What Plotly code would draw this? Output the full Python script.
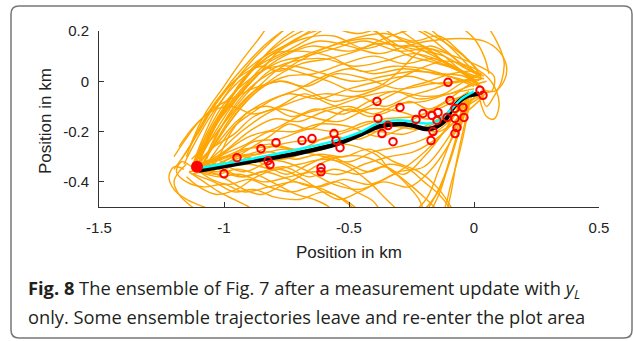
import plotly.graph_objects as go

# ---------------- data ----------------
x_ticks = [-1.5, -1, -0.5, 0, 0.5]
x_tick_labels = ["-1.5", "-1", "-0.5", "0", "0.5"]
y_ticks = [-0.4, -0.2, 0, 0.2]
y_tick_labels = ["-0.4", "-0.2", "0", "0.2"]

# ensemble trajectories (x list, y list), km
ens_x = [
    [-1.15, -1.12, -1.07, -1.0, -0.93, -0.86, -0.78, -0.6, -0.4, -0.22, -0.1, -0.02, 0.02],
    [-1.12, -1.09, -1.04, -0.97, -0.89, -0.82, -0.74, -0.6, -0.45, -0.32, -0.22, -0.12, -0.04, 0.02],
    [-1.10, -1.06, -1.00, -0.93, -0.85, -0.76, -0.66, -0.52, -0.40, -0.30, -0.18, -0.06, 0.02],
    [-1.13, -1.09, -1.03, -0.95, -0.86, -0.76, -0.65, -0.5, -0.38, -0.25, -0.12, -0.03, 0.03],
    [-1.08, -1.05, -0.99, -0.91, -0.82, -0.72, -0.6, -0.48, -0.36, -0.24, -0.13, -0.04, 0.02],
    [-1.14, -1.1, -1.04, -0.96, -0.88, -0.8, -0.72, -0.64, -0.54, -0.44, -0.36, -0.28, -0.18, -0.08, 0.0],
    [-1.11, -1.07, -1.01, -0.94, -0.86, -0.78, -0.68, -0.56, -0.44, -0.32, -0.2, -0.1, -0.01],
    [-1.16, -1.13, -1.08, -1.02, -0.94, -0.85, -0.75, -0.66, -0.56, -0.46, -0.38, -0.3, -0.2, -0.1, -0.02, 0.04],
    [-1.09, -1.06, -1.01, -0.95, -0.87, -0.8, -0.7, -0.58, -0.45, -0.32, -0.2, -0.1, 0.0],
    [-1.12, -1.10, -1.06, -1.0, -0.92, -0.83, -0.72, -0.6, -0.48, -0.36, -0.24, -0.13, -0.04, 0.04],
    [-1.1, -1.0, -0.9, -0.8, -0.7, -0.6, -0.5, -0.4, -0.3, -0.2, -0.1, 0.0],
    [-1.08, -0.98, -0.88, -0.78, -0.66, -0.54, -0.42, -0.3, -0.18, -0.08, 0.01],
    [-1.12, -1.02, -0.92, -0.82, -0.72, -0.6, -0.48, -0.36, -0.24, -0.12, -0.02],
    [-1.1, -1.03, -0.95, -0.85, -0.74, -0.62, -0.5, -0.38, -0.26, -0.14, -0.04, 0.03],
    [-1.14, -1.05, -0.96, -0.86, -0.76, -0.64, -0.52, -0.4, -0.28, -0.16, -0.06, 0.02],
    [-1.06, -0.98, -0.9, -0.8, -0.68, -0.56, -0.44, -0.32, -0.2, -0.1, -0.02, 0.05],
    [-1.11, -1.04, -0.96, -0.88, -0.78, -0.66, -0.54, -0.42, -0.3, -0.18, -0.08, 0.0],
    [-1.1, -1.02, -0.93, -0.82, -0.7, -0.58, -0.46, -0.34, -0.22, -0.1, 0.0, 0.06],
    [-1.13, -1.05, -0.97, -0.88, -0.78, -0.67, -0.55, -0.43, -0.3, -0.17, -0.06, 0.02],
    [-1.09, -1.0, -0.91, -0.82, -0.72, -0.62, -0.5, -0.38, -0.26, -0.14, -0.04, 0.04],
    [-1.1, -1.02, -0.94, -0.84, -0.74, -0.64, -0.54, -0.44, -0.34, -0.24, -0.14, -0.06, 0.01],
    [-1.12, -1.04, -0.96, -0.88, -0.8, -0.7, -0.6, -0.52, -0.45, -0.38, -0.3, -0.2, -0.14, -0.1, -0.06, -0.02],
    [-1.08, -1.0, -0.9, -0.8, -0.7, -0.6, -0.5, -0.4, -0.3, -0.2, -0.1, -0.02],
    [-1.14, -1.08, -1.02, -0.96, -0.9, -0.84, -0.78, -0.5, -0.25, -0.15, -0.1, -0.06, -0.02],
    [-1.1, -1.03, -0.95, -0.86, -0.76, -0.66, -0.56, -0.46, -0.36, -0.26, -0.18, -0.1, -0.03],
    [-1.15, -1.18, -1.2, -1.18, -1.14, -1.08, -1.0, -0.7, -0.35, -0.2, -0.14, -0.08, -0.03],
    [-1.11, -1.05, -0.98, -0.9, -0.82, -0.73, -0.64, -0.56, -0.5, -0.45, -0.4, -0.25, -0.18, -0.12, -0.07, -0.02],
    [-1.09, -1.02, -0.94, -0.85, -0.76, -0.66, -0.56, -0.46, -0.36, -0.28, -0.2, -0.12, -0.05],
    [-1.12, -1.06, -1.0, -0.92, -0.84, -0.74, -0.64, -0.55, -0.47, -0.4, -0.36],
    [-1.13, -1.17, -1.19, -1.15, -1.08, -1.0, -0.92, -0.82, -0.72, -0.62, -0.52, -0.42, -0.32, -0.22, -0.12, -0.04],
    [-1.1, -1.04, -0.97, -0.9, -0.82, -0.72, -0.62, -0.52, -0.42, -0.32, -0.22, -0.14, -0.08],
    [-1.16, -1.2, -1.22, -1.2, -1.15, -1.08, -0.95],
    [-1.1, -1.04, -0.97, -0.88, -0.78, -0.66, -0.54, -0.42, -0.3, -0.18, -0.06, 0.04, 0.1, 0.13, 0.12, 0.08, 0.03],
    [-1.1, -1.02, -0.93, -0.83, -0.72, -0.6, -0.48, -0.36, -0.24, -0.12, -0.02, 0.05, 0.09, 0.1, 0.08, 0.05, 0.02],
    [-1.08, -1.03, -0.96, -0.88, -0.79, -0.69, -0.58, -0.47, -0.36, -0.24, -0.12, -0.02, 0.05, 0.09, 0.12, 0.11, 0.08, 0.05, 0.03],
    [-1.11, -1.06, -1.0, -0.92, -0.83, -0.73, -0.62, -0.5, -0.38, -0.26, -0.15, -0.06, 0.01],
    [-1.13, -1.09, -1.03, -0.96, -0.88, -0.79, -0.69, -0.58, -0.46, -0.34, -0.22, -0.11, -0.03, 0.03],
    [-1.1, -1.05, -0.99, -0.92, -0.84, -0.75, -0.64, -0.52, -0.4, -0.28, -0.16, -0.07, 0.0],
    [-1.07, -1.02, -0.96, -0.88, -0.8, -0.7, -0.6, -0.5, -0.4, -0.28, -0.16, -0.06, 0.02],
    [-1.12, -1.07, -1.01, -0.94, -0.86, -0.77, -0.67, -0.56, -0.44, -0.3, -0.18, -0.08, 0.02, 0.08, 0.07, 0.03],
    [-1.1, -1.0, -0.9, -0.8, -0.7, -0.6, -0.5, -0.42, -0.36, -0.3, -0.26, -0.15, -0.1, -0.07, -0.04, -0.01],
    [-1.12, -1.02, -0.92, -0.82, -0.72, -0.62, -0.52, -0.44, -0.38, -0.34, -0.3, -0.26, -0.22, -0.19],
    [-1.09, -1.0, -0.92, -0.84, -0.75, -0.66, -0.58, -0.5, -0.42, -0.34, -0.26, -0.2, -0.14, -0.1, -0.07],
    [-1.11, -1.03, -0.95, -0.87, -0.79, -0.71, -0.64, -0.58, -0.54, -0.5, -0.3, -0.14, -0.09, -0.05, -0.02],
    [-1.2, -1.16, -1.1, -1.03, -0.95, -0.86, -0.76, -0.66, -0.56, -0.46, -0.36, -0.26, -0.16, -0.07, 0.01],
    [-1.18, -1.12, -1.05, -0.97, -0.88, -0.78, -0.68, -0.58, -0.48, -0.38, -0.28, -0.18, -0.09, -0.01, 0.04],
    [-1.06, -1.02, -0.97, -0.9, -0.82, -0.73, -0.63, -0.52, -0.42, -0.32, -0.22, -0.12, -0.04, 0.02],
    [-1.2, -1.15, -1.1, -1.04, -0.97, -0.9, -0.83, -0.75, -0.65, -0.5, -0.35, -0.2, -0.08, 0.0, 0.03],
    [-1.17, -1.12, -1.06, -0.99, -0.92, -0.85, -0.78, -0.7, -0.6, -0.48, -0.36, -0.24, -0.14, -0.06, 0.02],
    [-1.05, -0.98, -0.9, -0.82, -0.74, -0.66, -0.58, -0.5, -0.42, -0.34, -0.26, -0.18, -0.1, -0.03, 0.03],
    [-1.15, -1.1, -1.03, -0.95, -0.87, -0.78, -0.7, -0.62, -0.54, -0.46, -0.38, -0.3, -0.2, -0.1, -0.02],
    [-1.07, -1.03, -0.98, -0.92, -0.85, -0.77, -0.68, -0.58, -0.48, -0.38, -0.3, -0.24, -0.18, -0.12, -0.05, 0.02],
    [-1.13, -1.06, -0.99, -0.92, -0.85, -0.78, -0.7, -0.62, -0.53, -0.44, -0.35, -0.27, -0.2, -0.14, -0.09, -0.04],
    [-1.1, -1.07, -1.02, -0.96, -0.89, -0.81, -0.72, -0.63, -0.54, -0.45, -0.36, -0.28, -0.2, -0.12, -0.06, 0.0, 0.04, 0.06],
]
ens_y = [
    [-0.30, -0.22, -0.12, -0.02, 0.08, 0.17, 0.27, 0.34, 0.31, 0.24, 0.14, 0.06, 0.02],
    [-0.32, -0.24, -0.13, -0.02, 0.08, 0.15, 0.22, 0.3, 0.3, 0.22, 0.15, 0.08, 0.03, -0.02],
    [-0.31, -0.22, -0.11, 0.0, 0.09, 0.16, 0.21, 0.23, 0.2, 0.14, 0.09, 0.04, -0.02],
    [-0.35, -0.27, -0.17, -0.07, 0.03, 0.10, 0.14, 0.12, 0.15, 0.13, 0.10, 0.05, 0.03],
    [-0.33, -0.25, -0.15, -0.05, 0.04, 0.08, 0.09, 0.06, 0.08, 0.11, 0.08, 0.03, -0.01],
    [-0.27, -0.19, -0.1, 0.0, 0.07, 0.12, 0.16, 0.21, 0.26, 0.24, 0.17, 0.11, 0.08, 0.05, 0.01],
    [-0.34, -0.26, -0.16, -0.06, 0.03, 0.12, 0.17, 0.18, 0.13, 0.16, 0.14, 0.06, 0.02],
    [-0.33, -0.27, -0.18, -0.09, 0.0, 0.07, 0.12, 0.17, 0.23, 0.26, 0.22, 0.17, 0.12, 0.07, 0.03, 0.01],
    [-0.30, -0.21, -0.12, -0.03, 0.06, 0.11, 0.12, 0.10, 0.04, 0.06, 0.05, 0.02, -0.02],
    [-0.36, -0.28, -0.19, -0.09, -0.01, 0.05, 0.06, 0.03, 0.0, 0.02, 0.04, 0.03, 0.02, -0.03],
    [-0.34, -0.28, -0.2, -0.15, -0.16, -0.12, -0.1, -0.13, -0.09, -0.08, -0.05, -0.03],
    [-0.33, -0.3, -0.24, -0.23, -0.19, -0.2, -0.16, -0.17, -0.12, -0.07, -0.05],
    [-0.35, -0.31, -0.27, -0.26, -0.24, -0.23, -0.19, -0.15, -0.14, -0.1, -0.04],
    [-0.32, -0.25, -0.16, -0.09, -0.05, -0.07, -0.03, 0.0, 0.02, -0.01, 0.0, 0.01],
    [-0.36, -0.34, -0.3, -0.29, -0.27, -0.28, -0.24, -0.2, -0.21, -0.16, -0.1, -0.06],
    [-0.34, -0.27, -0.22, -0.19, -0.13, -0.1, -0.06, -0.04, -0.06, -0.05, -0.02, 0.0],
    [-0.33, -0.26, -0.21, -0.14, -0.11, -0.14, -0.16, -0.11, -0.12, -0.15, -0.11, -0.05],
    [-0.35, -0.33, -0.28, -0.25, -0.27, -0.22, -0.23, -0.18, -0.19, -0.14, -0.08, -0.04],
    [-0.31, -0.23, -0.13, -0.04, 0.0, -0.02, 0.03, 0.01, -0.03, -0.01, 0.0, 0.02],
    [-0.34, -0.29, -0.25, -0.2, -0.2, -0.17, -0.18, -0.22, -0.18, -0.2, -0.13, -0.06],
    [-0.36, -0.38, -0.37, -0.4, -0.38, -0.36, -0.37, -0.33, -0.3, -0.28, -0.22, -0.14, -0.05],
    [-0.37, -0.4, -0.44, -0.43, -0.46, -0.47, -0.44, -0.47, -0.52, -0.56, -0.6, -0.55, -0.45, -0.32, -0.2, -0.08],
    [-0.35, -0.34, -0.33, -0.35, -0.33, -0.31, -0.32, -0.28, -0.26, -0.23, -0.16, -0.06],
    [-0.36, -0.4, -0.44, -0.47, -0.5, -0.54, -0.58, -0.6, -0.55, -0.45, -0.33, -0.2, -0.07],
    [-0.34, -0.36, -0.33, -0.31, -0.32, -0.36, -0.41, -0.43, -0.4, -0.42, -0.36, -0.25, -0.1],
    [-0.33, -0.36, -0.4, -0.45, -0.49, -0.53, -0.58, -0.62, -0.58, -0.48, -0.35, -0.2, -0.06],
    [-0.35, -0.39, -0.41, -0.39, -0.42, -0.44, -0.42, -0.45, -0.49, -0.54, -0.6, -0.58, -0.5, -0.38, -0.22, -0.05],
    [-0.33, -0.35, -0.38, -0.36, -0.34, -0.38, -0.35, -0.37, -0.34, -0.37, -0.3, -0.2, -0.08],
    [-0.34, -0.32, -0.35, -0.38, -0.36, -0.39, -0.42, -0.4, -0.44, -0.48, -0.55],
    [-0.34, -0.32, -0.36, -0.4, -0.42, -0.41, -0.44, -0.42, -0.4, -0.42, -0.39, -0.41, -0.37, -0.3, -0.2, -0.07],
    [-0.33, -0.31, -0.33, -0.3, -0.28, -0.31, -0.29, -0.3, -0.27, -0.32, -0.36, -0.43, -0.52],
    [-0.35, -0.34, -0.38, -0.43, -0.47, -0.5, -0.56],
    [-0.33, -0.25, -0.14, -0.04, 0.05, 0.11, 0.15, 0.17, 0.14, 0.16, 0.17, 0.16, 0.12, 0.06, 0.0, -0.04, -0.03],
    [-0.35, -0.28, -0.2, -0.13, -0.08, -0.05, -0.06, -0.02, 0.04, 0.08, 0.06, 0.02, -0.04, -0.1, -0.15, -0.14, -0.06],
    [-0.32, -0.24, -0.14, -0.05, 0.02, 0.07, 0.09, 0.12, 0.17, 0.21, 0.24, 0.26, 0.22, 0.16, 0.08, 0.0, -0.06, -0.1, -0.05],
    [-0.32, -0.23, -0.12, -0.02, 0.07, 0.12, 0.16, 0.14, 0.11, 0.14, 0.12, 0.05, 0.0],
    [-0.34, -0.26, -0.15, -0.05, 0.05, 0.12, 0.18, 0.21, 0.19, 0.22, 0.2, 0.12, 0.05, 0.02],
    [-0.35, -0.27, -0.18, -0.09, -0.02, 0.02, 0.03, 0.07, 0.1, 0.07, 0.09, 0.05, 0.01],
    [-0.33, -0.26, -0.18, -0.12, -0.07, -0.03, 0.02, 0.05, 0.03, 0.05, 0.03, 0.01, -0.02],
    [-0.33, -0.24, -0.14, -0.05, 0.03, 0.08, 0.1, 0.13, 0.16, 0.12, 0.13, 0.1, 0.06, 0.02, -0.04, -0.04],
    [-0.34, -0.3, -0.29, -0.26, -0.28, -0.3, -0.34, -0.4, -0.46, -0.52, -0.58, -0.62, -0.48, -0.32, -0.18, -0.06],
    [-0.36, -0.33, -0.36, -0.32, -0.3, -0.26, -0.25, -0.27, -0.3, -0.35, -0.38, -0.42, -0.47, -0.55],
    [-0.33, -0.33, -0.3, -0.33, -0.37, -0.33, -0.3, -0.33, -0.36, -0.33, -0.35, -0.4, -0.45, -0.5, -0.56],
    [-0.35, -0.37, -0.35, -0.37, -0.41, -0.45, -0.47, -0.5, -0.55, -0.6, -0.65, -0.55, -0.4, -0.25, -0.1],
    [-0.3, -0.24, -0.16, -0.1, -0.06, -0.02, 0.0, -0.04, -0.08, -0.06, -0.1, -0.06, -0.03, 0.0, 0.0],
    [-0.26, -0.18, -0.12, -0.1, -0.13, -0.1, -0.05, -0.09, -0.12, -0.08, -0.03, 0.0, 0.03, 0.04, 0.02],
    [-0.37, -0.3, -0.2, -0.12, -0.1, -0.14, -0.11, -0.13, -0.08, -0.04, -0.07, -0.05, 0.0, 0.03],
    [-0.35, -0.28, -0.2, -0.1, 0.0, 0.08, 0.15, 0.21, 0.26, 0.28, 0.25, 0.2, 0.13, 0.06, 0.01],
    [-0.31, -0.23, -0.12, -0.03, 0.03, 0.06, 0.04, 0.08, 0.13, 0.17, 0.19, 0.16, 0.18, 0.12, 0.04],
    [-0.36, -0.32, -0.27, -0.22, -0.17, -0.19, -0.15, -0.11, -0.14, -0.12, -0.08, -0.11, -0.07, -0.02, 0.01],
    [-0.38, -0.42, -0.45, -0.43, -0.38, -0.35, -0.38, -0.43, -0.47, -0.44, -0.4, -0.36, -0.34, -0.22, -0.08],
    [-0.31, -0.22, -0.13, -0.05, 0.01, 0.05, 0.03, 0.0, -0.04, -0.02, 0.04, 0.1, 0.14, 0.12, 0.07, 0.03],
    [-0.37, -0.36, -0.39, -0.43, -0.45, -0.42, -0.38, -0.33, -0.3, -0.3, -0.34, -0.4, -0.46, -0.52, -0.58, -0.62],
    [-0.32, -0.25, -0.15, -0.05, 0.04, 0.13, 0.2, 0.24, 0.28, 0.3, 0.29, 0.26, 0.24, 0.25, 0.22, 0.17, 0.1, 0.03],
]

# true path (black) and estimate (cyan)
truth_x = [-1.1, -0.9, -0.7, -0.55, -0.45, -0.38, -0.3, -0.25, -0.18, -0.12, -0.08, -0.03, 0.02]
truth_y = [-0.355, -0.32, -0.285, -0.25, -0.21, -0.18, -0.17, -0.175, -0.19, -0.16, -0.1, -0.06, -0.05]
est_x = [-1.1, -0.9, -0.7, -0.55, -0.45, -0.38, -0.3, -0.22, -0.16, -0.1, -0.05, 0.0]
est_y = [-0.345, -0.31, -0.27, -0.235, -0.2, -0.165, -0.155, -0.165, -0.165, -0.12, -0.07, -0.04]

# measurements (red open circles)
meas_x = [-1.0, -0.852, -0.792, -0.824, -0.816, -0.688, -0.648, -0.612, -0.612, -0.56, -0.552,
          -0.536, -0.388, -0.384, -0.368, -0.344, -0.324, -0.296, -0.232, -0.204, -0.168, -0.164,
          -0.172, -0.144, -0.148, -0.108, -0.104, -0.096, -0.076, -0.076, -0.068, -0.076, -0.044,
          -0.04, 0.024, 0.036, -0.948]
meas_y = [-0.368, -0.268, -0.244, -0.316, -0.332, -0.236, -0.228, -0.344, -0.36, -0.208, -0.236,
          -0.264, -0.08, -0.148, -0.208, -0.176, -0.24, -0.104, -0.152, -0.128, -0.136, -0.2,
          -0.236, -0.124, -0.156, -0.144, -0.004, -0.076, -0.108, -0.148, -0.184, -0.208, -0.104,
          -0.144, -0.036, -0.056, -0.304]

start_x = [-1.108]
start_y = [-0.34]

# ---------------- figure ----------------
fig = go.Figure()
for xs, ys in zip(ens_x, ens_y):
    fig.add_trace(go.Scatter(x=xs, y=ys, mode="lines",
                             line=dict(color="#FFA500", width=1.4, shape="spline", smoothing=1.0),
                             hoverinfo="skip", showlegend=False))
fig.add_trace(go.Scatter(x=truth_x, y=truth_y, mode="lines",
                         line=dict(color="black", width=4.5, shape="spline"), showlegend=False))
fig.add_trace(go.Scatter(x=est_x, y=est_y, mode="lines",
                         line=dict(color="#00FFFF", width=2.5, shape="spline"), showlegend=False))
fig.add_trace(go.Scatter(x=meas_x, y=meas_y, mode="markers",
                         marker=dict(symbol="circle-open", size=7.5, color="red", line=dict(width=2, color="red")),
                         showlegend=False))
fig.add_trace(go.Scatter(x=start_x, y=start_y, mode="markers",
                         marker=dict(symbol="circle", size=12, color="red"), showlegend=False))

axis_font = dict(family="Liberation Sans, Arial, sans-serif", size=15, color="#222")
fig.update_xaxes(range=[-1.5, 0.5], tickvals=x_ticks, ticktext=x_tick_labels,
                 showline=True, linecolor="#333", linewidth=1, ticks="inside", ticklen=5,
                 tickcolor="#333", showgrid=False, zeroline=False, tickfont=axis_font,
                 ticklabelstandoff=7)
fig.update_yaxes(range=[-0.5, 0.2], tickvals=y_ticks, ticktext=y_tick_labels,
                 showline=True, linecolor="#333", linewidth=1, ticks="inside", ticklen=5,
                 tickcolor="#333", showgrid=False, zeroline=False, tickfont=axis_font,
                 ticklabelstandoff=6)

L, R, T, B = 99, 34, 31, 134
PW, PH = 633 - L - R, 341 - T - B
def px(x):
    return (x - L) / PW
def py(y):
    return (341 - B - y) / PH

fl, fr, ft, fb = px(11), px(632), py(6), py(338)
rx, ry = 8 / PW, 8 / PH
frame = (f"M {fl+rx},{ft} L {fr-rx},{ft} Q {fr},{ft} {fr},{ft-ry} L {fr},{fb+ry} "
         f"Q {fr},{fb} {fr-rx},{fb} L {fl+rx},{fb} Q {fl},{fb} {fl},{fb+ry} "
         f"L {fl},{ft-ry} Q {fl},{ft} {fl+rx},{ft} Z")

title_font = dict(family="Liberation Sans, Arial, sans-serif", size=17, color="#222")
cap_font = dict(family="Open Sans, sans-serif", size=18.3, color="#231f20")
fig.update_layout(
    width=633, height=341,
    margin=dict(l=L, r=R, t=T, b=B, pad=0),
    paper_bgcolor="white", plot_bgcolor="white",
    shapes=[dict(type="path", xref="paper", yref="paper", path=frame,
                 line=dict(color="#777", width=1.5), layer="below")],
    annotations=[
        dict(text="Position in km", x=0.5, y=py(253), xref="paper", yref="paper",
             showarrow=False, xanchor="center", yanchor="middle", font=title_font),
        dict(text="Position in km", x=px(45), y=py(121), xref="paper", yref="paper",
             showarrow=False, xanchor="center", yanchor="middle", textangle=-90, font=title_font),
        dict(text="<b>Fig. 8</b> The ensemble of Fig. 7 after a measurement update with <i>y<sub>L</sub></i>",
             x=px(26), y=py(289), xref="paper", yref="paper", showarrow=False,
             xanchor="left", yanchor="middle", font=cap_font),
        dict(text="only. Some ensemble trajectories leave and re-enter the plot area",
             x=px(26), y=py(316), xref="paper", yref="paper", showarrow=False,
             xanchor="left", yanchor="middle", font=cap_font),
    ],
)
fig.write_html("out.html")
